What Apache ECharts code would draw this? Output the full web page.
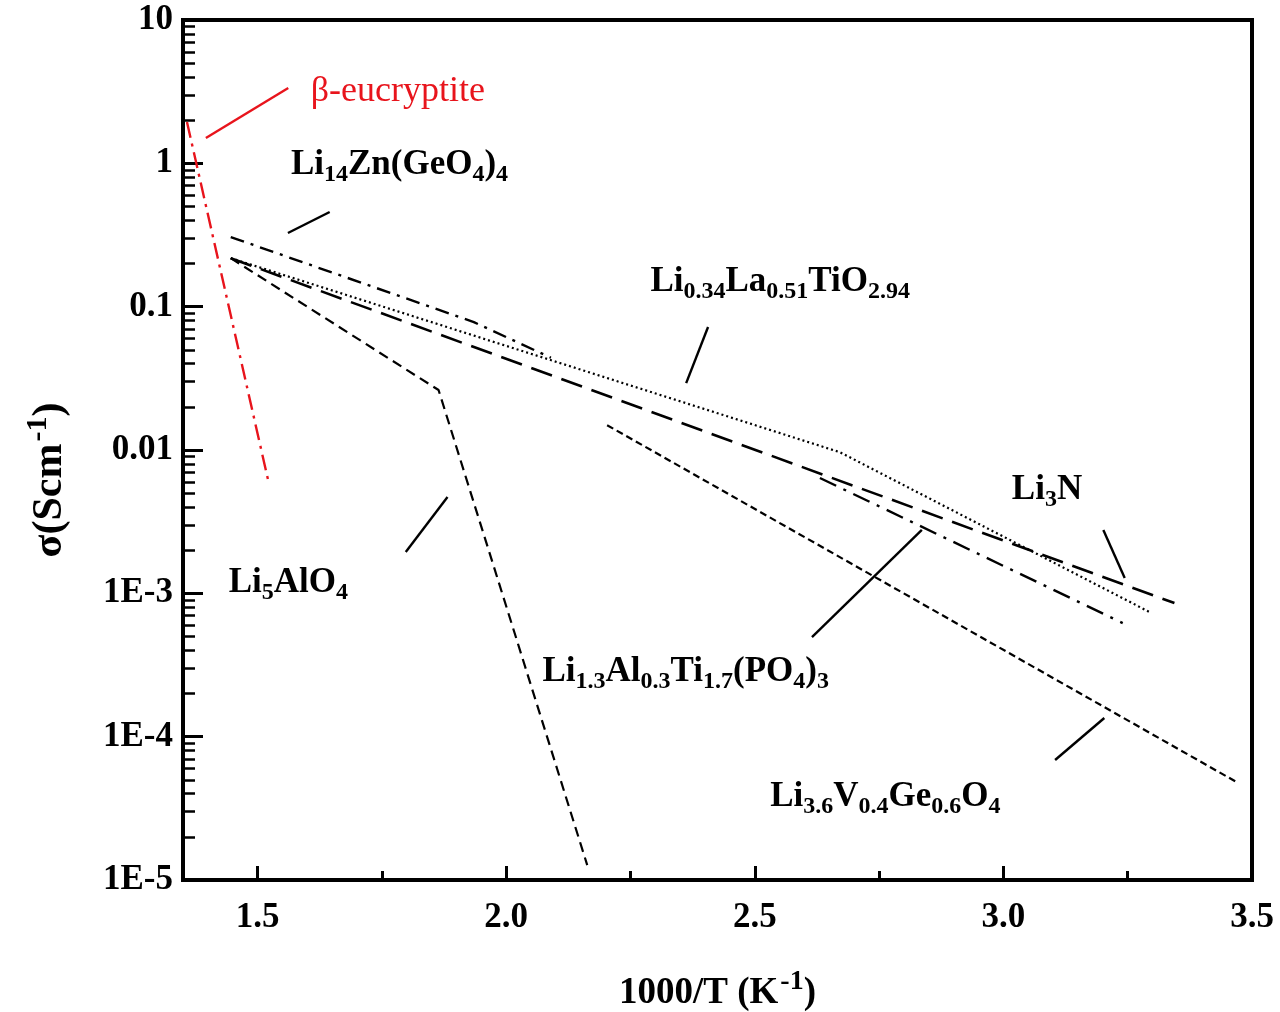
<!DOCTYPE html>
<html><head><meta charset="utf-8">
<script src="https://cdn.jsdelivr.net/npm/echarts@6/dist/echarts.min.js"></script>
<style>html,body{margin:0;padding:0;background:#fff}#c{width:1280px;height:1012px}</style>
</head><body><div id="c"></div>
<script>
// ---- ticks ----
const xTicks = [1.5, 2.0, 2.5, 3.0, 3.5];
const xMinorTicks = [1.75, 2.25, 2.75, 3.25];
const yTicks = [1e-5, 1e-4, 1e-3, 0.01, 0.1, 1, 10];
const yTickLabels = ['1E-5', '1E-4', '1E-3', '0.01', '0.1', '1', '10'];

// ---- conductivity lines [1000/T, sigma] ----
const eucryptite = [[1.358, 1.94], [1.523, 0.00578]];
const li14zn = [[1.446, 0.306], [1.935, 0.078], [2.09, 0.044]];
const llto = [[1.446, 0.218], [2.671, 0.00966], [3.294, 7.4e-4]];
const li3n = [[1.446, 0.218], [3.344, 8.55e-4]];
const li5alo4 = [[1.446, 0.218], [1.864, 0.0262], [2.163, 1.27e-5]];
const lvgo = [[2.203, 0.0149], [3.470, 4.8e-5]];
const latp = [[2.631, 6.38e-3], [3.240, 6.2e-4]];

// ---- label leader lines ----
const ptrEucryptite = [[1.396, 1.502], [1.5617, 3.355]];
const ptrLi14zn = [[1.561, 0.3266], [1.645, 0.4574]];
const ptrLlto = [[2.406, 0.0721], [2.362, 0.0293]];
const ptrLi3n = [[3.201, 2.77e-3], [3.244, 1.28e-3]];
const ptrLi5alo4 = [[1.882, 4.70e-3], [1.798, 1.94e-3]];
const ptrLatp = [[2.836, 2.77e-3], [2.615, 4.95e-4]];
const ptrLvgo = [[3.203, 1.35e-4], [3.104, 6.87e-5]];

// ---- labels (left anchor, vertical middle) ----
const labelNames = ['β-eucryptite', 'Li_{14}Zn(GeO_{4})_{4}', 'Li_{0.34}La_{0.51}TiO_{2.94}', 'Li_{3}N',
  'Li_{5}AlO_{4}', 'Li_{1.3}Al_{0.3}Ti_{1.7}(PO_{4})_{3}', 'Li_{3.6}V_{0.4}Ge_{0.6}O_{4}'];
const labelPos = [[1.607, 3.146], [1.567, 0.973], [2.290, 0.1486], [3.017, 5.26e-3],
  [1.442, 1.18e-3], [2.073, 2.82e-4], [2.531, 3.80e-5]];

const FONT = '"Liberation Serif", "Times New Roman", serif';
const RED = '#e8141c';

function toRich(t) {
  return t.split(/(_\{[^}]*\})/).filter(s => s.length).map(s => {
    if (s.startsWith('_{')) return '{s|' + s.slice(2, -1) + '}';
    return '{m|' + s + '}';
  }).join('');
}
const richLab = {
  m: { fontFamily: FONT, fontWeight: 'bold', fontSize: 35, color: '#000', opacity: 1 },
  s: { fontFamily: FONT, fontWeight: 'bold', fontSize: 24, color: '#000', opacity: 1, padding: [20, 0, 0, 0] },
  r: { fontFamily: FONT, fontWeight: 'normal', fontSize: 36, color: RED, opacity: 1 }
};

function lineSeries(data, color, width, type) {
  return { type: 'line', data: data, symbol: 'none', showSymbol: false, silent: true,
    lineStyle: { color: color, width: width, type: type, cap: 'butt', opacity: 1 }, z: 3, animation: false };
}

const minorY = [];
for (let n = -5; n < 1; n++) for (let k = 2; k <= 9; k++) minorY.push(Math.log10(k) + n);

const series = [
  lineSeries(eucryptite, RED, 2.4, [16, 6, 3, 6]),
  lineSeries(li14zn, '#000', 2.4, [14, 7, 3, 7]),
  lineSeries(llto, '#000', 2.2, [2, 3]),
  lineSeries(li3n, '#000', 2.6, [22, 10]),
  lineSeries(li5alo4, '#000', 2.2, [10, 6]),
  lineSeries(lvgo, '#000', 2.2, [7, 4]),
  lineSeries(latp, '#000', 2.4, [18, 8, 3, 8]),
  lineSeries(ptrEucryptite, RED, 2.4, 'solid'),
  lineSeries(ptrLi14zn, '#000', 2.4, 'solid'),
  lineSeries(ptrLlto, '#000', 2.4, 'solid'),
  lineSeries(ptrLi3n, '#000', 2.4, 'solid'),
  lineSeries(ptrLi5alo4, '#000', 2.4, 'solid'),
  lineSeries(ptrLatp, '#000', 2.4, 'solid'),
  lineSeries(ptrLvgo, '#000', 2.4, 'solid')
];
labelNames.forEach((nm, i) => {
  series.push({
    type: 'scatter', data: [labelPos[i]], symbolSize: 0, silent: true, animation: false, z: 5,
    itemStyle: { opacity: 1 },
    label: { show: true, position: 'right', distance: 0, color: i === 0 ? RED : '#000', opacity: 1,
      textBorderWidth: 0,
      formatter: i === 0 ? '{r|' + nm + '}' : toRich(nm), rich: richLab },
    emphasis: { disabled: true }
  });
});

const chart = echarts.init(document.getElementById('c'), null, { renderer: 'canvas' });
chart.setOption({
  backgroundColor: '#fff',
  animation: false,
  grid: { left: 183, right: 28, top: 20, bottom: 132, show: true, borderColor: '#000', borderWidth: 4,
    containLabel: false, outerBoundsMode: 'none' },
  xAxis: [{
    type: 'value', min: 1.35, max: 3.5, position: 'bottom',
    axisLine: { show: true, onZero: false, lineStyle: { color: '#000', width: 4 } },
    axisTick: { show: true, inside: true, length: 14, lineStyle: { color: '#000', width: 3 }, customValues: xTicks },
    axisLabel: { show: true, customValues: xTicks, formatter: v => Number(v).toFixed(1), margin: 20,
      fontFamily: FONT, fontWeight: 'bold', fontSize: 35, color: '#000' },
    splitLine: { show: false },
    name: '{a|1000/T (K}{b|-1}{a|)}', nameLocation: 'middle', nameGap: 88,
    nameTextStyle: { rich: {
      a: { fontFamily: FONT, fontWeight: 'bold', fontSize: 37, color: '#000' },
      b: { fontFamily: FONT, fontWeight: 'bold', fontSize: 28, color: '#000', padding: [0, 0, 22, 2] } } }
  }, {
    type: 'value', min: 1.35, max: 3.5, position: 'bottom', offset: 0,
    axisLine: { show: false, onZero: false },
    axisTick: { show: true, inside: true, length: 9, lineStyle: { color: '#000', width: 3 }, customValues: xMinorTicks },
    axisLabel: { show: false }, splitLine: { show: false }
  }],
  yAxis: [{
    type: 'log', logBase: 10, min: 1e-5, max: 10, position: 'left', splitNumber: 6,
    axisLine: { show: true, onZero: false, lineStyle: { color: '#000', width: 4 } },
    axisTick: { show: true, inside: true, length: 20, lineStyle: { color: '#000', width: 3 } },
    axisLabel: { show: true, margin: 10, fontFamily: FONT, fontWeight: 'bold', fontSize: 35, color: '#000',
      formatter: v => yTickLabels[Math.round(Math.log10(v)) + 5] },
    splitLine: { show: false },
    name: '{a|σ(Scm}{b|-1}{a|)}', nameLocation: 'middle', nameGap: 106, nameRotate: 90,
    nameTextStyle: { padding: [0, 60, 0, 0], rich: {
      a: { fontFamily: FONT, fontWeight: 'bold', fontSize: 42, color: '#000' },
      b: { fontFamily: FONT, fontWeight: 'bold', fontSize: 30, color: '#000', padding: [0, 0, 24, 2] } } }
  }, {
    type: 'value', min: -5, max: 1, position: 'left', offset: 0,
    axisLine: { show: false, onZero: false },
    axisTick: { show: true, inside: true, length: 12, lineStyle: { color: '#000', width: 2.5 }, customValues: minorY },
    axisLabel: { show: false }, splitLine: { show: false }
  }],
  series: series
});
</script></body></html>
